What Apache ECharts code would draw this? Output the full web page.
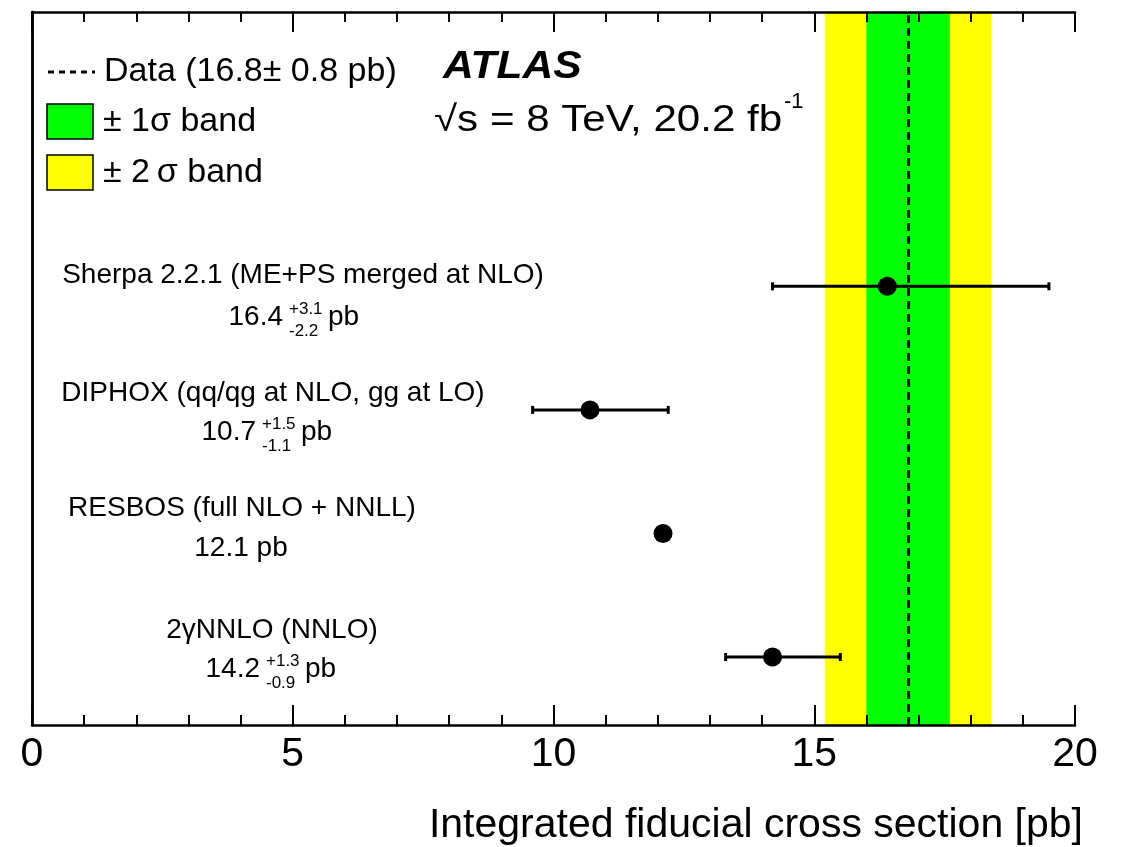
<!DOCTYPE html>
<html><head><meta charset="utf-8">
<script src="https://cdn.jsdelivr.net/npm/echarts@6/dist/echarts.min.js"></script>
<style>html,body{margin:0;padding:0;background:#fff}#c{width:1126px;height:847px}</style>
</head><body><div id="c"></div>
<script>
// ---- data ----
const modelNames = ['Sherpa 2.2.1 (ME+PS merged at NLO)', 'DIPHOX (qq/qg at NLO, gg at LO)', 'RESBOS (full NLO + NNLL)', '2\u03B3NNLO (NNLO)'];
const modelRows = [4, 3, 2, 1];
const modelCentral = [16.4, 10.7, 12.1, 14.2];
const modelErrUp = [3.1, 1.5, 0, 1.3];
const modelErrDown = [2.2, 1.1, 0, 0.9];
const modelValueText = ['16.4', '10.7', '12.1', '14.2'];
const modelUpText = ['+3.1', '+1.5', '', '+1.3'];
const modelDownText = ['-2.2', '-1.1', '', '-0.9'];
const dataValue = 16.8;
const dataSigma = 0.8;
const xMin = 0, xMax = 20, xStep = 5;

const FONT = '"Liberation Sans", Arial, Helvetica, sans-serif';
const chart = echarts.init(document.getElementById('c'), null, {renderer: 'canvas'});

const points = modelCentral.map((v, i) => [v, modelRows[i]]);
const errs = modelCentral.map((v, i) => [v - modelErrDown[i], v + modelErrUp[i], modelRows[i]]);

function axisCommon(pos, showLabel) {
  return {
    type: 'value', position: pos, min: xMin, max: xMax, interval: xStep, z: 10,
    axisLine: {show: true, onZero: false, lineStyle: {color: '#000', width: 2.5}},
    axisTick: {show: true, inside: true, length: 20, lineStyle: {color: '#000', width: 2}},
    minorTick: {show: true, splitNumber: 5, length: 10, lineStyle: {color: '#000', width: 2}},
    splitLine: {show: false}, minorSplitLine: {show: false},
    axisLabel: {show: showLabel, fontSize: 41, color: '#000', fontFamily: FONT, margin: 9}
  };
}
const xBottom = axisCommon('bottom', true);
xBottom.name = 'Integrated fiducial cross section [pb]';
xBottom.nameLocation = 'end';
xBottom.nameGap = 8;
xBottom.nameTextStyle = {fontSize: 41, color: '#000', fontFamily: FONT, align: 'right', verticalAlign: 'top', padding: [80, 0, 0, 0]};
const xTop = axisCommon('top', false);

function yAxisCommon(pos) {
  return {
    type: 'value', position: pos, min: 0.45, max: 6.22, z: 10,
    axisLine: {show: true, lineStyle: {color: '#000', width: 2.5}},
    axisTick: {show: false}, axisLabel: {show: false}, splitLine: {show: false}
  };
}

const T = (text, x, y, size, align, extra, sx) => ({
  type: 'text', x: x, y: y, z: 100, scaleX: sx || 1,
  style: Object.assign({text: text, font: size + 'px ' + FONT, fill: '#000', align: align || 'left', verticalAlign: 'middle', textAlign: align || 'left', textVerticalAlign: 'middle'}, extra || {})
});

// annotation layout (pixel positions of text blocks)
const titleCenters = [[303, 275], [273, 393], [242, 508], [272, 630]];
const valueAnchors = [[283, 317], [256, 432], [241, 548], [260, 669]];

const graphics = [];
// legend
graphics.push({type: 'line', shape: {x1: 48, y1: 72, x2: 95, y2: 72}, style: {stroke: '#000', lineWidth: 3, lineDash: [6, 5]}, z: 100});
graphics.push(T('Data (16.8\u00B1 0.8 pb)', 104, 72, 34));
graphics.push({type: 'rect', shape: {x: 47, y: 104, width: 46, height: 35}, style: {fill: '#00ff00', stroke: '#000', lineWidth: 1.5}, z: 100});
graphics.push(T('\u00B1 1\u03C3 band', 103, 122, 34));
graphics.push({type: 'rect', shape: {x: 47, y: 155, width: 46, height: 35}, style: {fill: '#ffff00', stroke: '#000', lineWidth: 1.5}, z: 100});
graphics.push(T('\u00B1 2\u2009\u03C3 band', 103, 173, 34));
// ATLAS label
graphics.push(T('ATLAS', 443, 68, 38, 'left', {font: 'italic bold 38px ' + FONT}, 1.12));
graphics.push(T('\u221As = 8 TeV, 20.2 fb', 434, 121, 36, 'left', null, 1.17));
graphics.push(T('-1', 784, 102, 22));
// model labels
modelNames.forEach((name, i) => {
  graphics.push(T(name, titleCenters[i][0], titleCenters[i][1], 28, 'center'));
  const [vx, vy] = valueAnchors[i];
  if (modelUpText[i]) {
    graphics.push(T(modelValueText[i], vx, vy, 28, 'right'));
    graphics.push(T(modelUpText[i], vx + 6, vy - 8, 17, 'left'));
    graphics.push(T(modelDownText[i], vx + 6, vy + 14, 17, 'left'));
    graphics.push(T('pb', vx + 45, vy, 28, 'left'));
  } else {
    graphics.push(T(modelValueText[i] + ' pb', vx, vy, 28, 'center'));
  }
});

const option = {
  animation: false,
  backgroundColor: '#fff',
  grid: {left: 32, right: 51, top: 12, bottom: 122, containLabel: false},
  xAxis: [xBottom, xTop],
  yAxis: [yAxisCommon('left'), yAxisCommon('right')],
  graphic: graphics,
  series: [
    {
      name: 'bands', type: 'line', data: [], z: 1, silent: true,
      markArea: {
        silent: true,
        data: [
          [{xAxis: dataValue - 2 * dataSigma, itemStyle: {color: '#ffff00', opacity: 1}}, {xAxis: dataValue + 2 * dataSigma}],
          [{xAxis: dataValue - dataSigma, itemStyle: {color: '#00ff00', opacity: 1}}, {xAxis: dataValue + dataSigma}]
        ]
      },
      markLine: {
        silent: true, symbol: 'none', label: {show: false},
        lineStyle: {color: '#000', width: 3, type: [8, 5], opacity: 1},
        data: [{xAxis: dataValue}]
      }
    },
    {
      name: 'errors', type: 'custom', z: 3, silent: true,
      data: errs,
      encode: {x: [0, 1], y: 2},
      renderItem: function (params, api) {
        const lo = api.value(0), hi = api.value(1), row = api.value(2);
        if (hi - lo <= 0) return null;
        const p1 = api.coord([lo, row]);
        const p2 = api.coord([hi, row]);
        const st = {stroke: '#000', lineWidth: 3};
        return {
          type: 'group',
          children: [
            {type: 'line', shape: {x1: p1[0], y1: p1[1], x2: p2[0], y2: p2[1]}, style: st},
            {type: 'line', shape: {x1: p1[0], y1: p1[1] - 4, x2: p1[0], y2: p1[1] + 4}, style: st},
            {type: 'line', shape: {x1: p2[0], y1: p2[1] - 4, x2: p2[0], y2: p2[1] + 4}, style: st}
          ]
        };
      }
    },
    {
      name: 'models', type: 'scatter', z: 4, silent: true,
      data: points, symbol: 'circle', symbolSize: 19,
      itemStyle: {color: '#000', opacity: 1}
    }
  ]
};
chart.setOption(option);
</script>
</body></html>
